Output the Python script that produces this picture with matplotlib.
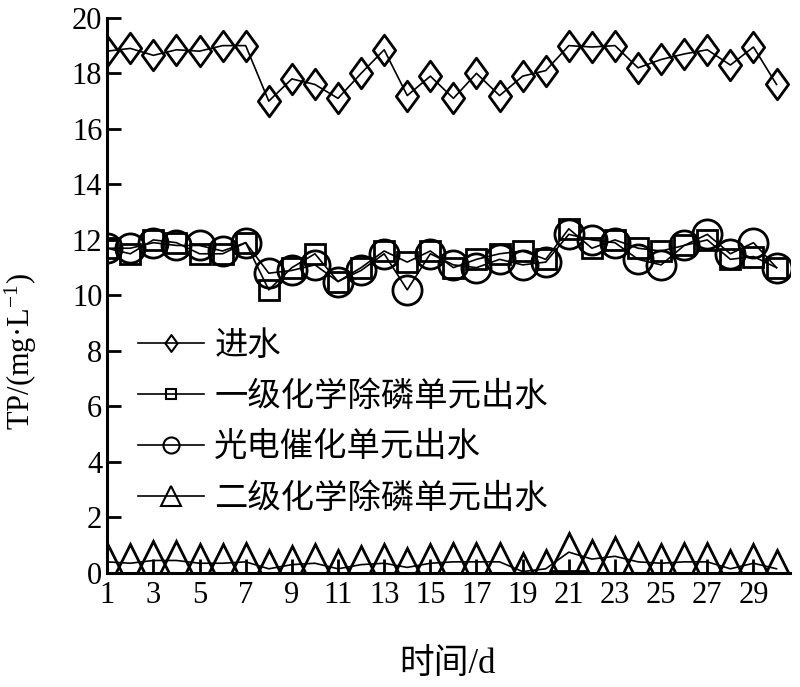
import matplotlib
matplotlib.use("Agg")
import matplotlib.pyplot as plt
from matplotlib.path import Path

plt.rcParams["font.family"] = ["Liberation Serif", "Noto Sans CJK SC"]
plt.rcParams["mathtext.fontset"] = "stix"

days = list(range(1, 31))
influent = [18.8, 18.9, 18.65, 18.85, 18.8, 19.0, 19.0, 17.0, 17.8, 17.6,
            17.1, 18.0, 18.85, 17.2, 17.9, 17.1, 18.0, 17.2, 17.9, 18.1,
            19.0, 18.95, 19.0, 18.2, 18.5, 18.7, 18.85, 18.3, 18.95, 17.6]
chem1 = [11.7, 11.5, 12.0, 11.9, 11.5, 11.5, 11.9, 10.2, 11.0, 11.5,
         10.5, 11.0, 11.6, 11.2, 11.6, 11.0, 11.3, 11.5, 11.6, 11.3,
         12.4, 11.7, 12.0, 11.7, 11.6, 11.8, 12.0, 11.3, 11.4, 11.0]
photo = [11.7, 11.7, 11.9, 11.8, 11.8, 11.6, 11.9, 10.8, 10.9, 11.1,
         10.5, 10.9, 11.5, 10.2, 11.5, 11.1, 11.0, 11.3, 11.1, 11.2,
         12.2, 12.0, 11.9, 11.3, 11.1, 11.8, 12.2, 11.5, 11.9, 11.0]
chem2 = [0.4, 0.35, 0.45, 0.45, 0.35, 0.35, 0.4, 0.15, 0.3, 0.35,
         0.15, 0.3, 0.35, 0.2, 0.35, 0.4, 0.4, 0.4, 0.05, 0.15,
         0.75, 0.5, 0.6, 0.4, 0.35, 0.4, 0.4, 0.15, 0.35, 0.15]

labels = ["进水", "一级化学除磷单元出水", "光电催化单元出水", "二级化学除磷单元出水"]
xticks = list(range(1, 30, 2))
yticks = list(range(0, 21, 2))

diamond = Path([(0, 1), (0.73, 0), (0, -1), (-0.73, 0), (0, 1)],
               [Path.MOVETO, Path.LINETO, Path.LINETO, Path.LINETO, Path.CLOSEPOLY])

fig = plt.figure(figsize=(8, 6.87), dpi=100)
ax = fig.add_axes([0.134, 0.166, 0.854, 0.808])

common = dict(color="black", linewidth=1.2, mfc="none", mec="black", mew=2.0)
ax.plot(days, influent, marker=diamond, ms=22, label=labels[0], **common)
ax.plot(days, chem1, marker="s", ms=14, label=labels[1], **common)
ax.plot(days, photo, marker="o", ms=21, label=labels[2], **common)
ax.plot(days, chem2, marker="^", ms=27, label=labels[3], **common)

ax.set_xlim(1, 30.6)
ax.set_ylim(0, 20)
ax.set_xticks(xticks)
ax.set_yticks(yticks)
ax.tick_params(direction="in", length=10, width=2, labelsize=22)
ax.tick_params(axis="x", pad=6)
ax.spines["top"].set_visible(False)
ax.spines["right"].set_visible(False)
for s in ("left", "bottom"):
    ax.spines[s].set_linewidth(2.2)

ax.set_ylabel("TP/(mg·L$^{\\mathregular{-1}}$)", fontsize=22)
ax.yaxis.set_label_coords(-0.1, 0.40)
ax.set_xlabel("时间/d", fontsize=25)
ax.xaxis.set_label_coords(0.498, -0.135)

leg = ax.legend(loc="upper left", bbox_to_anchor=(0.025, 0.46), frameon=False,
                fontsize=24, markerscale=0.55, handlelength=2.0, handletextpad=0.3,
                labelspacing=0.58, borderaxespad=0)
for h in leg.legend_handles:
    h.set_markeredgewidth(1.5)

fig.savefig("out.png", dpi=100)
